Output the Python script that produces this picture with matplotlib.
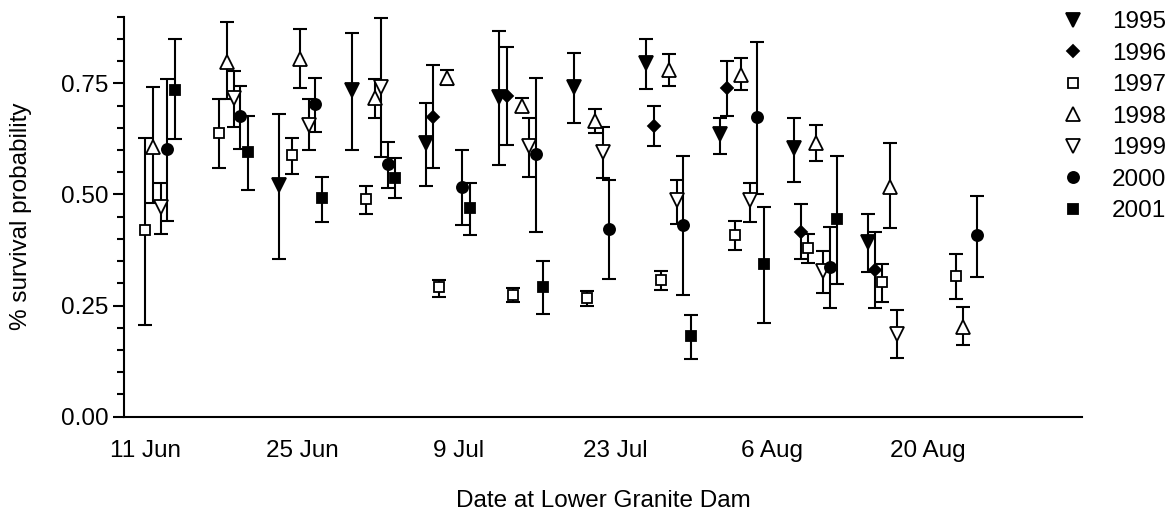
import matplotlib
matplotlib.use("Agg")
import numpy as np
import matplotlib.pyplot as plt
from matplotlib.lines import Line2D
from matplotlib.ticker import MultipleLocator

plt.rcParams['font.family'] = ['Liberation Sans', 'DejaVu Sans']

# x = days after 31 May (11 = 11 Jun), y = survival, lo/hi = error bar ends
x_1995 = [22.9, 29.5, 36.1, 42.65, 49.3, 55.8, 62.4, 69.0, 75.6]
y_1995 = [0.521, 0.735, 0.615, 0.720, 0.741, 0.795, 0.637, 0.604, 0.394]
lo_1995 = [0.354, 0.600, 0.519, 0.566, 0.660, 0.738, 0.592, 0.528, 0.326]
hi_1995 = [0.681, 0.864, 0.705, 0.868, 0.819, 0.849, 0.672, 0.673, 0.456]

x_1996 = [36.7, 43.3, 56.5, 63.0, 69.6, 76.25]
y_1996 = [0.675, 0.721, 0.654, 0.740, 0.416, 0.330]
lo_1996 = [0.560, 0.611, 0.609, 0.677, 0.354, 0.244]
hi_1996 = [0.791, 0.831, 0.699, 0.801, 0.478, 0.416]

x_1997 = [11.0, 17.6, 24.1, 30.7, 37.3, 43.9, 50.5, 57.1, 63.7, 70.3, 76.9, 83.5]
y_1997 = [0.419, 0.639, 0.588, 0.490, 0.291, 0.274, 0.266, 0.307, 0.409, 0.380, 0.304, 0.317]
lo_1997 = [0.206, 0.560, 0.547, 0.456, 0.270, 0.257, 0.249, 0.285, 0.375, 0.346, 0.259, 0.265]
hi_1997 = [0.627, 0.714, 0.627, 0.519, 0.307, 0.290, 0.283, 0.328, 0.441, 0.411, 0.343, 0.366]

x_1998 = [11.7, 18.3, 24.85, 31.5, 38.0, 44.65, 51.2, 57.8, 64.3, 71.0, 77.6, 84.15]
y_1998 = [0.607, 0.798, 0.804, 0.716, 0.761, 0.699, 0.666, 0.780, 0.768, 0.615, 0.517, 0.202]
lo_1998 = [0.480, 0.714, 0.740, 0.673, 0.746, 0.686, 0.639, 0.744, 0.736, 0.576, 0.424, 0.161]
hi_1998 = [0.741, 0.888, 0.872, 0.759, 0.780, 0.716, 0.692, 0.816, 0.806, 0.656, 0.615, 0.246]

x_1999 = [12.4, 18.9, 25.6, 32.1, 45.3, 51.9, 58.5, 65.1, 71.6, 78.2]
y_1999 = [0.472, 0.716, 0.657, 0.741, 0.609, 0.596, 0.487, 0.487, 0.328, 0.187]
lo_1999 = [0.412, 0.651, 0.600, 0.585, 0.540, 0.536, 0.433, 0.438, 0.279, 0.131]
hi_1999 = [0.526, 0.777, 0.714, 0.896, 0.672, 0.651, 0.532, 0.525, 0.373, 0.240]

x_2000 = [12.95, 19.5, 26.2, 32.7, 39.3, 45.9, 52.5, 59.1, 65.7, 72.2, 85.4]
y_2000 = [0.602, 0.676, 0.703, 0.568, 0.517, 0.590, 0.422, 0.431, 0.675, 0.337, 0.409]
lo_2000 = [0.441, 0.602, 0.641, 0.515, 0.431, 0.415, 0.309, 0.274, 0.502, 0.245, 0.315]
hi_2000 = [0.759, 0.744, 0.761, 0.617, 0.600, 0.761, 0.532, 0.586, 0.843, 0.427, 0.497]

x_2001 = [13.6, 20.2, 26.8, 33.3, 40.0, 46.6, 59.8, 66.3, 72.9]
y_2001 = [0.736, 0.596, 0.491, 0.538, 0.469, 0.291, 0.181, 0.343, 0.445]
lo_2001 = [0.624, 0.510, 0.438, 0.492, 0.409, 0.230, 0.130, 0.210, 0.298]
hi_2001 = [0.849, 0.677, 0.539, 0.581, 0.525, 0.350, 0.229, 0.471, 0.587]

tick_days = [11, 25, 39, 53, 67, 81]
tick_labels = ["11 Jun", "25 Jun", "9 Jul", "23 Jul", "6 Aug", "20 Aug"]

years = ["1995", "1996", "1997", "1998", "1999", "2000", "2001"]
xs = [x_1995, x_1996, x_1997, x_1998, x_1999, x_2000, x_2001]
ys = [y_1995, y_1996, y_1997, y_1998, y_1999, y_2000, y_2001]
los = [lo_1995, lo_1996, lo_1997, lo_1998, lo_1999, lo_2000, lo_2001]
his = [hi_1995, hi_1996, hi_1997, hi_1998, hi_1999, hi_2000, hi_2001]

# marker, filled?, size
styles = [("v", True, 9.5), ("D", True, 6.5), ("s", False, 7.5), ("^", False, 9.5),
          ("v", False, 9.5), ("o", True, 8), ("s", True, 7.5)]

fs = 17.5
fig = plt.figure(figsize=(11.72, 5.19), dpi=100)
ax = fig.add_axes([0.1058, 0.1971, 0.8174, 0.7707])

handles = []
for yr, x, y, lo, hi, (m, filled, ms) in zip(years, xs, ys, los, his, styles):
    x = np.array(x)
    y = np.array(y)
    err = [y - np.array(lo), np.array(hi) - y]
    ax.errorbar(x, y, yerr=err, fmt="none", ecolor="black", elinewidth=1.5,
                capsize=4.7, capthick=1.5, zorder=2, clip_on=False)
    fc = "black" if filled else "white"
    ax.plot(x, y, ls="none", marker=m, ms=ms, mfc=fc, mec="black", mew=1.3,
            zorder=3, clip_on=False)
    handles.append(Line2D([], [], ls="none", marker=m, ms=ms, mfc=fc,
                          mec="black", mew=1.3, label=yr))

ax.set_xlim(9.08, 94.77)
ax.set_ylim(0, 0.9)
ax.set_xticks(tick_days)
ax.set_xticklabels(tick_labels)
ax.yaxis.set_major_locator(MultipleLocator(0.25))
ax.yaxis.set_minor_locator(MultipleLocator(0.05))
ax.yaxis.set_major_formatter(plt.FormatStrFormatter("%.2f"))

for s in ["top", "right"]:
    ax.spines[s].set_visible(False)
for s in ["left", "bottom"]:
    ax.spines[s].set_linewidth(1.5)

ax.tick_params(axis="x", length=0, pad=17, labelsize=fs)
ax.tick_params(axis="y", which="major", length=8, width=1.5, pad=3, labelsize=fs)
ax.tick_params(axis="y", which="minor", length=5, width=1.5)

ax.set_xlabel("Date at Lower Granite Dam", fontsize=fs, labelpad=20)
ax.set_ylabel("% survival probability", fontsize=fs, labelpad=21)

ax.legend(handles=handles, loc="upper left", bbox_to_anchor=(0.9053, 0.978),
          bbox_transform=fig.transFigure, frameon=False, fontsize=fs,
          borderpad=0, borderaxespad=0, handlelength=1.0, handletextpad=1.1,
          labelspacing=0.39)

fig.savefig("out.png", dpi=100)
